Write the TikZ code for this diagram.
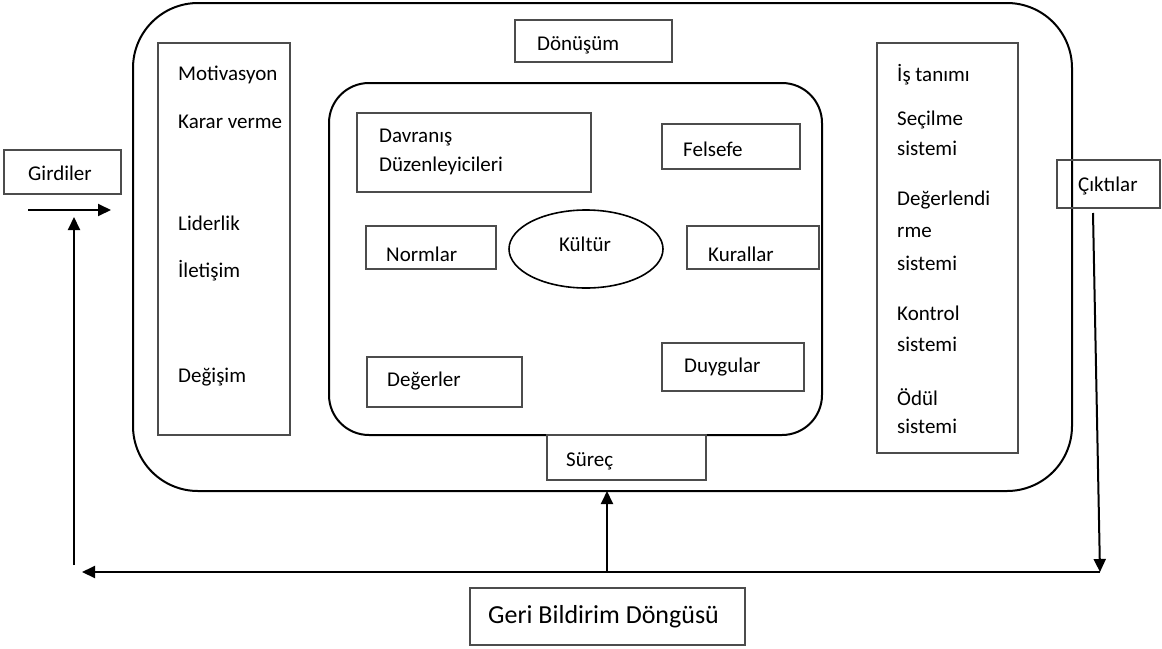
\documentclass[tikz,border=0pt]{standalone}
\usepackage{fontspec}
\setmainfont{Carlito}
\usetikzlibrary{arrows.meta,shapes.geometric}
\tikzset{
  frame/.style={draw=black, line width=2pt, rounded corners=#1},
  box/.style={draw=black!70, line width=1.2pt, inner sep=0pt},
  lbl/.style={anchor=west, inner sep=0pt, font=\fontsize{21}{24}\selectfont},
  conn/.style={draw=black, line width=2pt, -{Triangle[length=13pt,width=12pt]}},
  plain/.style={draw=black, line width=2pt},
}
\begin{document}
\begin{tikzpicture}[x=1pt,y=-1pt]
\useasboundingbox (0,0) rectangle (1162,648);
% frames
\draw[frame=65pt] (133,3) rectangle (1072,491);
\draw[frame=40pt] (329,83) rectangle (822,435);
% boxes
\node[box, minimum width=157pt, minimum height=42pt] (donusum) at (593.5,41) {};
\node[lbl] at (537,45) {Dönüşüm};
\node[box, minimum width=132pt, minimum height=392pt] (left) at (224,239) {};
\node[lbl] at (178,75) {Motivasyon};
\node[lbl] at (178,122) {Karar verme};
\node[lbl] at (178,223) {Liderlik};
\node[lbl] at (178,271) {İletişim};
\node[lbl] at (178,377) {Değişim};
\node[box, minimum width=141pt, minimum height=410pt] (right) at (947.5,248) {};
\node[lbl] at (897,75) {İş tanımı};
\node[lbl] at (897,120) {Seçilme};
\node[lbl] at (897,148) {sistemi};
\node[lbl] at (897,200) {Değerlendi};
\node[lbl] at (897,232) {rme};
\node[lbl] at (897,263) {sistemi};
\node[lbl] at (897,313) {Kontrol};
\node[lbl] at (897,344) {sistemi};
\node[lbl] at (897,397) {Ödül};
\node[lbl] at (897,426) {sistemi};
\node[box, minimum width=234pt, minimum height=79pt] (davranis) at (474,152.5) {};
\node[lbl] at (379,138) {Davranış};
\node[lbl] at (379,166) {Düzenleyicileri};
\node[box, minimum width=138pt, minimum height=45pt] (felsefe) at (731,146.5) {};
\node[lbl] at (683,149) {Felsefe};
\node[box, minimum width=130pt, minimum height=43pt] (normlar) at (431,247.5) {};
\node[lbl] at (386,254) {Normlar};
\node[draw=black, line width=1.6pt, ellipse, minimum width=154pt, minimum height=78pt, inner sep=0pt] (kultur) at (586,249) {};
\node[lbl, anchor=center] at (585,244) {Kültür};
\node[box, minimum width=132pt, minimum height=43pt] (kurallar) at (753,247.5) {};
\node[lbl] at (708,254) {Kurallar};
\node[box, minimum width=155pt, minimum height=50pt] (degerler) at (444.5,382) {};
\node[lbl] at (387,381) {Değerler};
\node[box, minimum width=142pt, minimum height=48pt] (duygular) at (733,367) {};
\node[lbl] at (684,367) {Duygular};
\node[box, minimum width=159pt, minimum height=45pt, fill=white] (surec) at (626.5,457.5) {};
\node[lbl] at (566,461) {Süreç};
\node[box, minimum width=117pt, minimum height=44pt] (girdiler) at (62.5,172) {};
\node[lbl] at (28,173) {Girdiler};
\node[box, minimum width=103pt, minimum height=48pt] (ciktilar) at (1108.5,184) {};
\node[lbl] at (1078,186) {Çıktılar};
\node[box, minimum width=275pt, minimum height=57pt] (geri) at (607.5,616.5) {};
\node[lbl, font=\fontsize{26}{30}\selectfont] at (488,617) {Geri Bildirim Döngüsü};
% connectors
\coordinate (gin) at (28,210);
\coordinate (gout) at (111,210);
\draw[conn] (gin) -- (gout);
\coordinate (ctop) at (1093,213);
\coordinate (fbR) at (1100,572);
\coordinate (fbL) at (82,572);
\coordinate (lbot) at (74,565);
\coordinate (ltop) at (74,217);
\coordinate (mid) at (607,572);
\coordinate (midtop) at (607,491);
\draw[conn] (ctop) -- (fbR);
\draw[plain] (fbR) -- (mid);
\draw[conn] (mid) -- (fbL);
\draw[conn] (lbot) -- (ltop);
\draw[conn] (mid) -- (midtop);
\end{tikzpicture}
\end{document}
